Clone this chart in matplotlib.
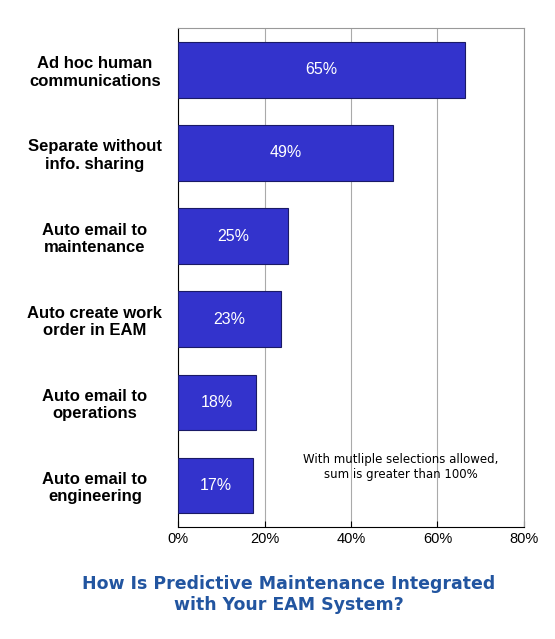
import matplotlib
matplotlib.use("Agg")
import matplotlib.pyplot as plt
plt.rcParams["font.family"] = ["Liberation Sans", "DejaVu Sans"]

categories = ["Ad hoc human\ncommunications", "Separate without\ninfo. sharing", "Auto email to\nmaintenance",
              "Auto create work\norder in EAM", "Auto email to\noperations", "Auto email to\nengineering"]
values = [66.3, 49.7, 25.4, 23.8, 18.0, 17.3]
labels = ["65%", "49%", "25%", "23%", "18%", "17%"]
xticks = [0, 20, 40, 60, 80]

fig = plt.figure(figsize=(5.55, 6.39), dpi=100)
ax = fig.add_axes([0.321, 0.175, 0.623, 0.781])
y = list(range(len(categories)))[::-1]
ax.barh(y, values, height=0.67, color="#3333CC", edgecolor="#1a1a66", linewidth=0.8, zorder=3)
for yi, v, l in zip(y, values, labels):
    ax.text(v / 2, yi, l, color="white", ha="center", va="center", fontsize=11.5, zorder=4)
ax.set_xlim(0, 80)
ax.set_ylim(-0.5, len(categories) - 0.5)
ax.set_yticks(y)
ax.set_yticklabels(categories, fontsize=12, fontweight="bold", ha="center")
ax.tick_params(axis="y", length=0, pad=60)
ax.set_xticks(xticks)
ax.set_xticklabels([f"{t}%" for t in xticks], fontsize=10.5)
ax.tick_params(axis="x", direction="in", length=4)
ax.grid(axis="x", color="#aaaaaa", linewidth=0.8, zorder=0)
for s in ["top", "right"]:
    ax.spines[s].set_color("#999999")
ax.text(0.645, 0.12, "With mutliple selections allowed,\nsum is greater than 100%",
        transform=ax.transAxes, ha="center", va="center", fontsize=8.5, family="DejaVu Sans")
fig.text(0.52, 0.07, "How Is Predictive Maintenance Integrated\nwith Your EAM System?",
         ha="center", va="center", fontsize=12.5, fontweight="bold", color="#2255A0",
         linespacing=1.2, family="DejaVu Sans")
fig.savefig("out.png", dpi=100)
